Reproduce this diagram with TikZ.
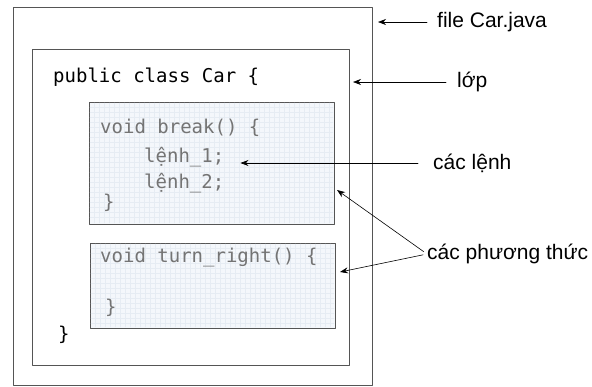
\documentclass[tikz,border=0pt]{standalone}
\usepackage{fontspec}
\setmainfont{Liberation Sans}
\setmonofont{DejaVu Sans Mono}
\usetikzlibrary{arrows.meta}
\definecolor{framegray}{HTML}{555555}
\definecolor{methodfill}{HTML}{F4F7FB}
\definecolor{gridblue}{HTML}{E6ECF3}
\definecolor{codegray}{HTML}{747474}

\begin{document}
\begin{tikzpicture}[x=1pt,y=-1pt,line cap=round,line join=round,>={Stealth[length=8pt,width=6pt]},
	frame/.style={draw=framegray,line width=1pt,anchor=north west,inner sep=0pt},
	methodbox/.style={frame,fill=methodfill},
	code/.style={font=\fontsize{19}{22}\ttfamily,anchor=base west,inner sep=0pt},
	methodcode/.style={code,text=codegray},
	lbl/.style={font=\fontsize{21}{25}\selectfont,anchor=west,inner sep=0pt},
	pointer/.style={->,line width=0.6pt}]
	\useasboundingbox (0,0) rectangle (592,386);
	% file and class
	\node[frame,minimum width=359pt,minimum height=378pt] (filebox) at (13,7) {};
	\node[frame,minimum width=317pt,minimum height=316pt] (classbox) at (32,49) {};
	% methods
	\node[methodbox,minimum width=245pt,minimum height=122pt] (breakbox) at (89,102) {};
	\node[methodbox,minimum width=245pt,minimum height=85pt] (turnbox) at (90,243) {};
	\begin{scope}[gridblue,line width=0.25pt]
		\foreach \gx in {94,99,...,330} \draw (\gx,103) -- (\gx,223);
		\foreach \gy in {107,112,...,220} \draw (90,\gy) -- (333,\gy);
		\foreach \gx in {95,100,...,331} \draw (\gx,244) -- (\gx,327);
		\foreach \gy in {248,253,...,324} \draw (91,\gy) -- (334,\gy);
	\end{scope}
	% code
	\node[code] (classhead) at (53,82) {public class Car \{};
	\node[methodcode] (breakhead) at (100,133) {void break() \{};
	\node[methodcode] (stmt1) at (144,162) {lệnh\_1;};
	\node[methodcode] (stmt2) at (144,188) {lệnh\_2;};
	\node[methodcode] (breakend) at (103,208) {\}};
	\node[methodcode] (turnhead) at (100,262) {void turn\_right() \{};
	\node[methodcode] (turnend) at (105,313) {\}};
	\node[code] (classend) at (58,340) {\}};
	% labels
	\node[lbl] (lfile) at (437,22) {file Car.java};
	\node[lbl] (lclass) at (457,82) {lớp};
	\node[lbl] (lstmt) at (433,163) {các lệnh};
	\node[lbl] (lmeth) at (427,254) {các phương thức};
	\coordinate (tbreak) at (337,190);
	\coordinate (tturn) at (340,272);
	% arrows
	\draw[pointer,shorten <=10pt,shorten >=5pt] (lfile.west) -- (lfile.west -| filebox.east);
	\draw[pointer,shorten <=11pt,shorten >=3pt] (lclass.west) -- (lclass.west -| classbox.east);
	\draw[pointer,shorten <=15pt,shorten >=16pt] (lstmt.west) -- (lstmt.west -| stmt1.east);
	\draw[pointer,shorten <=4pt] (lmeth.west) -- (tbreak);
	\draw[pointer,shorten <=4pt] (lmeth.west) -- (tturn);
\end{tikzpicture}
\end{document}
